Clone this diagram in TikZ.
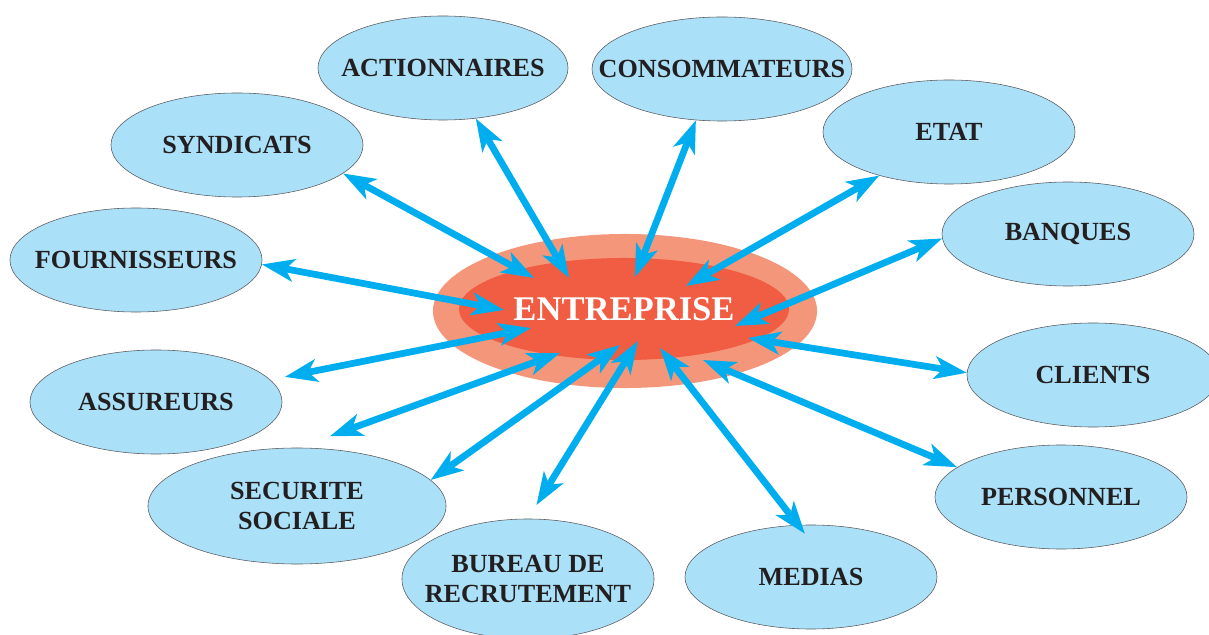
\documentclass[tikz,border=0pt]{standalone}
\usepackage{fontspec}
\setmainfont{Liberation Serif}
\usetikzlibrary{shapes.geometric,arrows.meta}

\definecolor{skyfill}{RGB}{171,225,248}
\definecolor{rimgray}{RGB}{90,90,95}
\definecolor{linkblue}{RGB}{0,174,239}
\definecolor{ringsalmon}{RGB}{244,150,121}
\definecolor{corered}{RGB}{240,93,67}
\definecolor{inkdark}{RGB}{35,31,32}

\tikzset{
    party/.style={ellipse, draw=rimgray, line width=0.4pt, fill=skyfill, inner sep=0pt,
        minimum width=6.3cm, minimum height=2.6cm},
    tag/.style={font=\fontsize{18.6}{21.5}\selectfont\bfseries, text=inkdark, align=center},
    link/.style={draw=linkblue, line width=4.8pt,
        {Stealth[length=23pt,width=16pt,inset=6pt]}-{Stealth[length=23pt,width=16pt,inset=6pt]}}
}

\begin{document}
\begin{tikzpicture}[x=0.025cm, y=-0.025cm]
            \useasboundingbox (0,0) rectangle (1209,635);

            % partenaires
            \node[party, minimum width=6.25cm, label={[tag]center:ACTIONNAIRES}] (act) at (443,68) {};
            \node[party, minimum width=6.5cm, label={[tag]center:CONSOMMATEURS}] (con) at (722,69) {};
            \node[party, label={[tag]center:SYNDICATS}] (syn) at (237,145) {};
            \node[party, label={[tag]center:ETAT}] (eta) at (949,132) {};
            \node[party, label={[tag]center:FOURNISSEURS}] (fou) at (136,260) {};
            \node[party, label={[tag]center:BANQUES}] (ban) at (1068,234) {};
            \node[party, label={[tag]center:ASSUREURS}] (ass) at (156,402) {};
            \node[party, label={[tag]center:CLIENTS}] (cli) at (1093,375) {};
            \node[party, minimum width=7.45cm, minimum height=2.9cm, label={[tag]center:{SECURITE\\SOCIALE}}] (sec) at (297,506) {};
            \node[party, label={[tag]center:PERSONNEL}] (per) at (1061,497) {};
            \node[party, minimum height=3cm, label={[tag]center:{BUREAU DE\\RECRUTEMENT}}] (bur) at (528,579) {};
            \node[party, label={[tag]center:MEDIAS}] (med) at (811,577) {};

            % entreprise
            \node[ellipse, fill=ringsalmon, minimum width=9.6cm, minimum height=3.85cm] (ring) at (625,311) {};
            \node[ellipse, fill=corered, minimum width=8.25cm, minimum height=2.55cm, inner sep=0pt,
                text=white, font=\fontsize{24.6}{28}\selectfont\bfseries] (ent) at (624,309) {ENTREPRISE};

            \draw[link] (syn.-15) -- ([shift={(-90,-31)}]ent.center);
            \draw[link] (act.-57) -- ([shift={(-55,-31)}]ent.center);
            \draw[link] (fou.-2) -- ([shift={(-120,1)}]ent.center);
            \draw[link] (con.-117) -- ([shift={(11,-32)}]ent.center);
            \draw[link] (eta.-148) -- ([shift={(62,-23)}]ent.center);
            \draw[link] (ban.182) -- ([shift={(111,17)}]ent.center);
            \draw[link, shorten <=0.37cm] (ass.11) -- ([shift={(-93,19)}]ent.center);
            \draw[link, shorten <=0.85cm] (sec.89) -- ([shift={(-64,44)}]ent.center);
            \draw[link] (sec.11) -- ([shift={(-4,36)}]ent.center);
            \draw[link, shorten <=0.4cm] (bur.90) -- ([shift={(14,32)}]ent.center);
            \draw[link] (cli.179) -- ([shift={(124,29)}]ent.center);
            \draw[link] (per.164) -- ([shift={(79,51)}]ent.center);
            \draw[link, shorten <=-0.28cm] (med.104) -- ([shift={(36,39)}]ent.center);

\end{tikzpicture}
\end{document}
